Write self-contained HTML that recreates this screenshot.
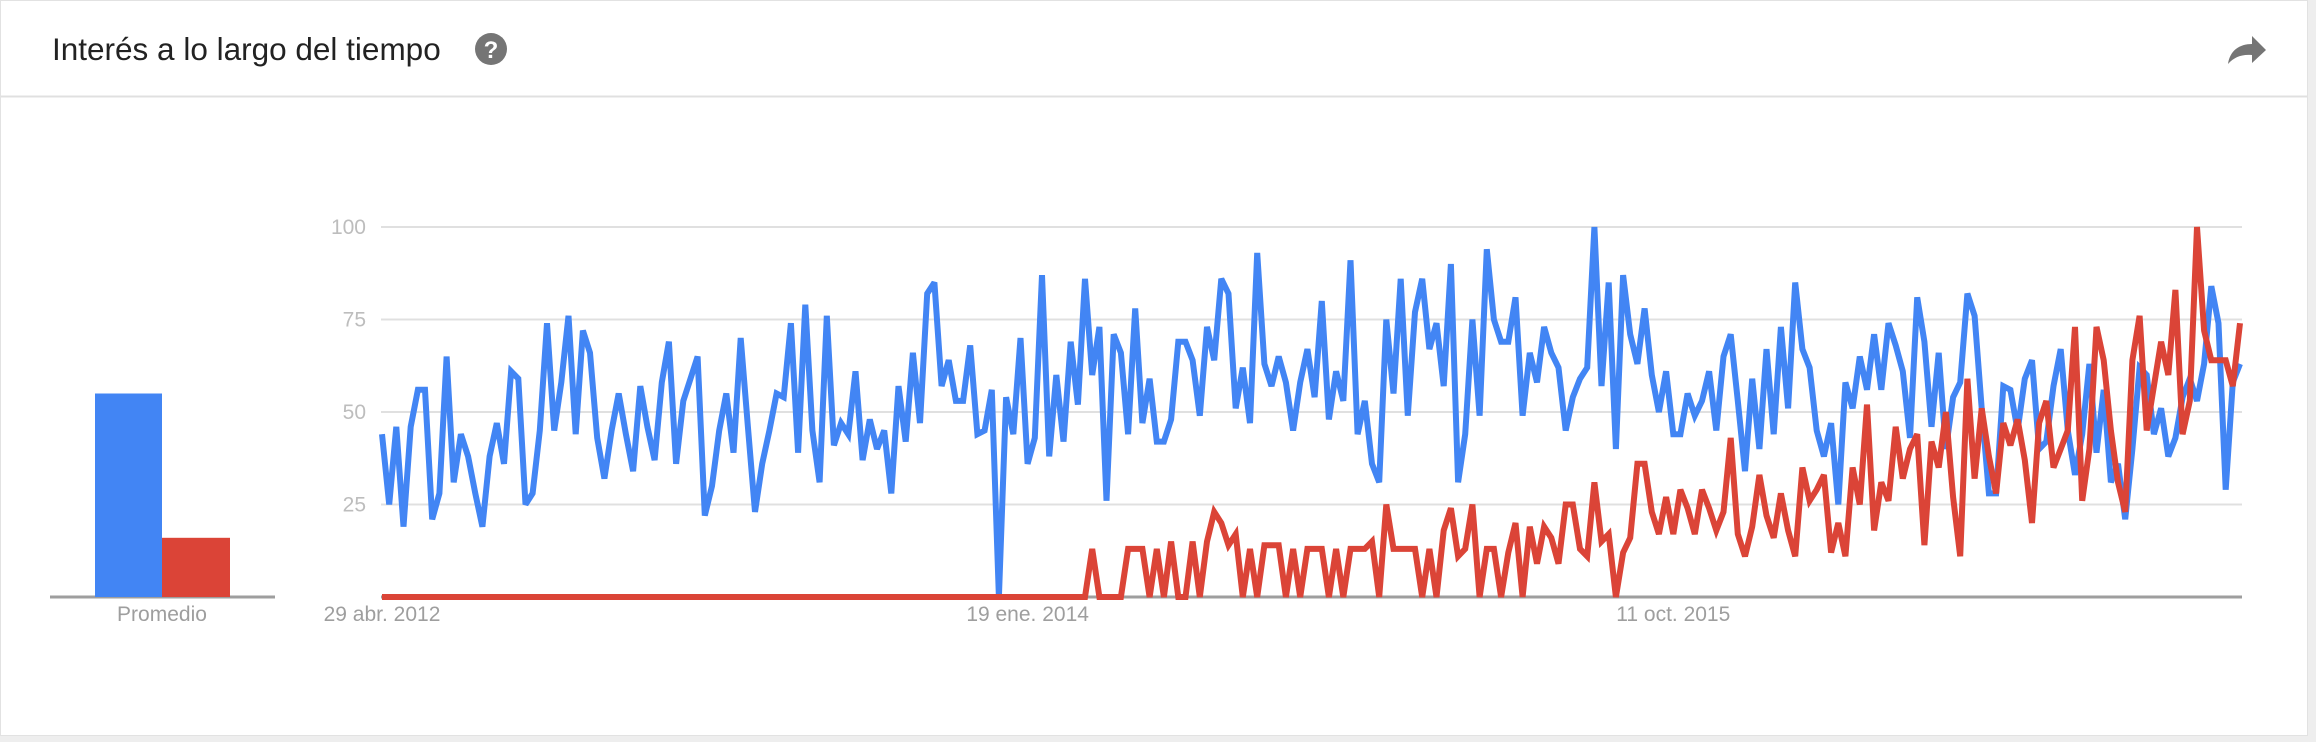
<!DOCTYPE html>
<html><head><meta charset="utf-8">
<style>
html,body{margin:0;padding:0;background:#eeeeee;}
#card{position:absolute;left:0;top:0;width:2306px;height:734px;background:#fff;border:1px solid #e2e2e2;}
svg{position:absolute;left:0;top:0;}
text{font-family:"Liberation Sans",Arial,sans-serif;}
</style></head>
<body>
<div id="card"></div>
<svg id="chart" width="2316" height="742">
  <text x="52" y="60" font-size="31.5" fill="#222">Interés a lo largo del tiempo</text>
  <g>
    <circle cx="491" cy="49" r="16" fill="#757575"/>
    <text x="491" y="58" font-size="24" font-weight="bold" fill="#fff" text-anchor="middle">?</text>
  </g>
  <path d="M2228 64 C2230 50 2240 44 2252 44 L2252 36 L2266 50 L2252 63 L2252 55 C2242 54 2234 57 2228 64 Z" fill="#757575"/>
  <line x1="1" y1="96.5" x2="2307" y2="96.5" stroke="#e0e0e0" stroke-width="2"/>
  <g id="grid"></g>
  <g id="bars"></g>
  <g id="lines"></g>
  <g id="xlabels"></g>
</svg>
<script>
const yTicks = [25, 50, 75, 100];
const xTickLabels = ["29 abr. 2012", "19 ene. 2014", "11 oct. 2015"];
const xTickIndex = [0, 90, 180];
const avgBlue = 55;
const avgRed = 16;
const blueSeries = [44,25,46,19,46,56,56,21,28,65,31,44,38,28,19,38,47,36,61,59,25,28,45,74,45,58,76,44,72,66,43,32,45,55,44,34,57,46,37,58,69,36,53,59,65,22,30,45,55,39,70,46,23,36,
45,55,54,74,39,79,45,31,76,41,47,44,61,37,48,40,45,28,57,42,66,47,82,85,57,64,53,53,68,44,45,56,0,54,44,70,36,43,87,38,60,42,69,52,86,60,73,26,71,66,44,78,47,
59,42,42,48,69,69,64,49,73,64,86,82,51,62,47,93,63,57,65,58,45,58,67,54,80,48,61,53,91,44,53,36,31,75,55,86,49,77,86,67,74,57,90,31,44,75,49,94,75,69,69,81,
49,66,58,73,66,62,45,54,59,62,100,57,85,40,87,71,63,78,60,50,61,44,44,55,49,53,61,45,65,71,53,34,59,40,67,44,73,51,85,67,62,45,38,47,25,58,51,65,56,
71,56,74,68,61,43,81,69,46,66,40,54,58,82,76,51,28,28,57,56,45,59,64,40,42,57,67,45,33,44,63,39,56,31,36,21,40,62,60,44,51,38,43,54,59,53,63,84,74,29,58,63];
const redSeries = [0,0,0,0,0,0,0,0,0,0,0,0,0,0,0,0,0,0,0,0,0,0,0,0,0,0,0,0,0,0,0,0,0,0,0,0,0,0,0,0,0,0,0,0,0,0,0,0,0,0,
0,0,0,0,0,0,0,0,0,0,0,0,0,0,0,0,0,0,0,0,0,0,0,0,0,0,0,0,0,0,0,0,0,0,0,0,0,0,0,0,0,0,0,0,0,0,0,0,0,
13,0,0,0,0,13,13,13,0,
13,0,15,0,0,15,0,15,23,20,14,17,0,13,0,14,14,14,0,13,0,13,13,13,0,13,0,13,13,13,15,0,25,13,13,13,13,0,13,0,18,24,11,13,25,0,13,13,0,12,20,
0,19,9,19,16,9,25,25,13,11,31,15,17,0,12,16,36,36,23,17,27,17,29,24,17,29,24,18,23,43,17,11,19,33,22,16,28,18,11,35,26,29,33,12,20,11,35,25,52,
18,31,26,46,32,40,44,14,42,35,50,27,11,59,32,51,38,28,47,41,48,37,20,47,53,35,40,45,73,26,40,73,64,45,31,23,64,76,45,57,69,60,83,44,53,100,72,64,64,64,57,74];

const NS = "http://www.w3.org/2000/svg";
const X0 = 382, X1 = 2240, Y0 = 597, Y100 = 227;
const N = Math.max(blueSeries.length, redSeries.length);
function xScale(i){ return X0 + (X1 - X0) * i / (N - 1); }
function yScale(v){ return Y0 + (Y100 - Y0) * v / 100; }
function mk(tag, attrs){ const e = document.createElementNS(NS, tag); for (const k in attrs) e.setAttribute(k, attrs[k]); return e; }

const grid = document.getElementById('grid');
yTicks.forEach(t => {
  const l = mk('line', {x1: X0-1, x2: 2242, y1: yScale(t), y2: yScale(t), stroke: '#e0e0e0', 'stroke-width': 2});
  
  
  grid.appendChild(l);
  const tx = mk('text', {x: 366, y: yScale(t) + 7, 'font-size': 21, fill: '#bdbdbd', 'text-anchor': 'end'});
  tx.textContent = t;
  
  
  grid.appendChild(tx);
});
const base = mk('line', {x1: X0-1, x2: 2242, y1: Y0, y2: Y0, stroke: '#9e9e9e', 'stroke-width': 3});


grid.appendChild(base);

const bars = document.getElementById('bars');
const bb = mk('line', {x1: 50, x2: 275, y1: Y0, y2: Y0, stroke: '#9e9e9e', 'stroke-width': 3});


bars.appendChild(bb);
const b1 = mk('rect', {x: 95, width: 67, y: yScale(avgBlue), height: Y0 - yScale(avgBlue), fill: '#4285f4'});


bars.appendChild(b1);
const b2 = mk('rect', {x: 162, width: 68, y: yScale(avgRed), height: Y0 - yScale(avgRed), fill: '#db4437'});


bars.appendChild(b2);
const pt = mk('text', {x: 162, y: 621, 'font-size': 21, fill: '#9e9e9e', 'text-anchor': 'middle'});
pt.textContent = 'Promedio';


bars.appendChild(pt);

const lines = document.getElementById('lines');
function drawSeries(arr, color, name){
  const d = arr.map((v,i) => (i ? 'L' : 'M') + xScale(i).toFixed(1) + ' ' + yScale(v).toFixed(1)).join(' ');
  const p = mk('path', {d: d, fill: 'none', stroke: color, 'stroke-width': 6, 'stroke-linejoin': 'miter', 'stroke-miterlimit': 3});
  
  
  lines.appendChild(p);
}
drawSeries(blueSeries, '#4285f4', 'blue-series-line');
drawSeries(redSeries, '#db4437', 'red-series-line');

const xl = document.getElementById('xlabels');
xTickLabels.forEach((lab, k) => {
  const t = mk('text', {x: xScale(xTickIndex[k]), y: 621, 'font-size': 21, fill: '#9e9e9e', 'text-anchor': 'middle'});
  t.textContent = lab;
  
  
  xl.appendChild(t);
});
</script>
</body></html>
